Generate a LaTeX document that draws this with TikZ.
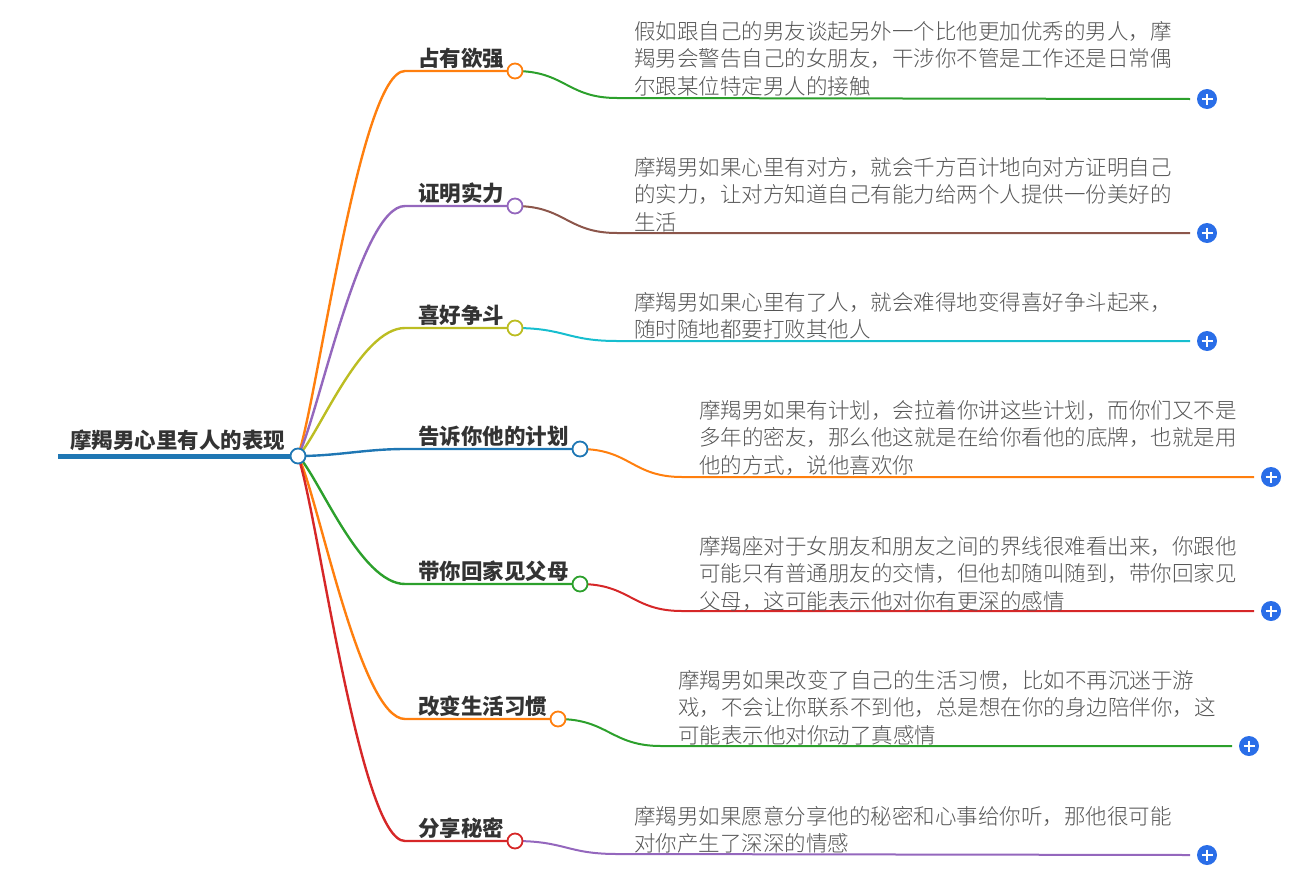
\documentclass[tikz,border=0pt]{standalone}
\usepackage{fontspec}
\setmainfont{Noto Sans CJK SC}
\IfFontExistsTF{Noto Sans CJK SC Light}
  {\newfontfamily\leaffont{Noto Sans CJK SC Light}}
  {\newfontfamily\leaffont{Noto Sans CJK SC}}
\usepackage{xcolor}
\usepackage{tikz}
\usetikzlibrary{positioning, calc, backgrounds}
\definecolor{mmBlue}{HTML}{1F77B4}
\definecolor{mmOrange}{HTML}{FF7F0E}
\definecolor{mmGreen}{HTML}{2CA02C}
\definecolor{mmRed}{HTML}{D62728}
\definecolor{mmPurple}{HTML}{9467BD}
\definecolor{mmBrown}{HTML}{8C564B}
\definecolor{mmOlive}{HTML}{BCBD22}
\definecolor{mmCyan}{HTML}{17BECF}
\definecolor{mmPlus}{HTML}{2A6EE8}
\definecolor{mmText}{HTML}{333333}
\definecolor{mmLeaf}{HTML}{555555}
\tikzset{
  topic/.style={
    anchor=base west, inner sep=0pt,
    font=\fontsize{21.5}{26}\selectfont\bfseries,
    text=mmText
  },
  leaftext/.style={
    anchor=north west, inner sep=0pt,
    align=left,
    font=\leaffont\fontsize{21.5}{27.5}\selectfont,
    text=mmLeaf
  },
  dot/.style={
    circle, draw=#1, line width=1.8pt,
    fill=white,
    minimum size=15pt, inner sep=0pt
  },
  plusdot/.style={
    circle, fill=mmPlus,
    minimum size=20pt, inner sep=0pt, outer sep=7pt,
    path picture={
      \draw[white, line width=1.8pt]
        ($(path picture bounding box.center)+(-5.5,0)$) -- ($(path picture bounding box.center)+(5.5,0)$)
        ($(path picture bounding box.center)+(0,-5.5)$) -- ($(path picture bounding box.center)+(0,5.5)$);
    }
  },
  trunk/.style={draw=mmBlue, line width=5pt},
  branch/.style={draw=#1, line width=2.4pt},
  twig/.style={draw=#1, line width=2pt}
}

\begin{document}
\begin{tikzpicture}[x=1pt, y=-1pt]
  \useasboundingbox (0,0) rectangle (1297,878);
  \node[topic] (root) at (70,448) {摩羯男心里有人的表现};
  \node[dot=mmBlue] (rootdot) at (298,456) {};
  \coordinate (rootstart) at (58,456);

  \node[topic] (own) at (418,66) {占有欲强};
  \node[topic] (prove) at (418,201) {证明实力};
  \node[topic] (fight) at (418,323) {喜好争斗};
  \node[topic] (plan) at (418,444) {告诉你他的计划};
  \node[topic] (family) at (418,579) {带你回家见父母};
  \node[topic] (habit) at (418,714) {改变生活习惯};
  \node[topic] (secret) at (418,836) {分享秘密};

  \node[dot=mmOrange] (owndot) at (515,71) {};
  \node[dot=mmPurple] (provedot) at (515,206) {};
  \node[dot=mmOlive] (fightdot) at (515,328) {};
  \node[dot=mmBlue] (plandot) at (580,449) {};
  \node[dot=mmGreen] (familydot) at (580,584) {};
  \node[dot=mmOrange] (habitdot) at (558,719) {};
  \node[dot=mmRed] (secretdot) at (515,841) {};

  \node[leaftext] (ownleaf) at (634,21) {假如跟自己的男友谈起另外一个比他更加优秀的男人，摩\\羯男会警告自己的女朋友，干涉你不管是工作还是日常偶\\尔跟某位特定男人的接触};
  \node[leaftext] (proveleaf) at (634,157) {摩羯男如果心里有对方，就会千方百计地向对方证明自己\\的实力，让对方知道自己有能力给两个人提供一份美好的\\生活};
  \node[leaftext] (fightleaf) at (634,292) {摩羯男如果心里有了人，就会难得地变得喜好争斗起来，\\随时随地都要打败其他人};
  \node[leaftext] (planleaf) at (699,400) {摩羯男如果有计划，会拉着你讲这些计划，而你们又不是\\多年的密友，那么他这就是在给你看他的底牌，也就是用\\他的方式，说他喜欢你};
  \node[leaftext] (familyleaf) at (699,536) {摩羯座对于女朋友和朋友之间的界线很难看出来，你跟他\\可能只有普通朋友的交情，但他却随叫随到，带你回家见\\父母，这可能表示他对你有更深的感情};
  \node[leaftext] (habitleaf) at (678,670) {摩羯男如果改变了自己的生活习惯，比如不再沉迷于游\\戏，不会让你联系不到他，总是想在你的身边陪伴你，这\\可能表示他对你动了真感情};
  \node[leaftext] (secretleaf) at (634,806) {摩羯男如果愿意分享他的秘密和心事给你听，那他很可能\\对你产生了深深的情感};

  \node[plusdot] (ownplus) at (1207,99) {};
  \node[plusdot] (proveplus) at (1207,233) {};
  \node[plusdot] (fightplus) at (1207,341) {};
  \node[plusdot] (planplus) at (1271,477) {};
  \node[plusdot] (familyplus) at (1271,611) {};
  \node[plusdot] (habitplus) at (1249,746) {};
  \node[plusdot] (secretplus) at (1207,855) {};

  \coordinate (ownbend) at (405,71);
  \coordinate (provebend) at (405,206);
  \coordinate (fightbend) at (405,328);
  \coordinate (planbend) at (405,449);
  \coordinate (familybend) at (405,584);
  \coordinate (habitbend) at (405,719);
  \coordinate (secretbend) at (405,841);

  \coordinate (owntip) at (617,98);
  \coordinate (provetip) at (617,233);
  \coordinate (fighttip) at (617,341);
  \coordinate (plantip) at (682,477);
  \coordinate (familytip) at (682,611);
  \coordinate (habittip) at (661,746);
  \coordinate (secrettip) at (617,854);

  \begin{scope}[on background layer]
    \draw[trunk] (rootstart) -- (rootdot.center);
    \draw[branch=mmOrange] (rootdot.center) .. controls +(20,-58) and +(-45,0) .. (ownbend) -- (owndot.center);
    \draw[branch=mmPurple] (rootdot.center) .. controls +(20,-38) and +(-45,0) .. (provebend) -- (provedot.center);
    \draw[branch=mmOlive] (rootdot.center) .. controls +(20,-19) and +(-45,0) .. (fightbend) -- (fightdot.center);
    \draw[branch=mmBlue] (rootdot.center) .. controls +(40,0) and +(-40,0) .. (planbend) -- (plandot.center);
    \draw[branch=mmGreen] (rootdot.center) .. controls +(20,19) and +(-45,0) .. (familybend) -- (familydot.center);
    \draw[branch=mmOrange] (rootdot.center) .. controls +(20,39) and +(-45,0) .. (habitbend) -- (habitdot.center);
    \draw[branch=mmRed] (rootdot.center) .. controls +(20,58) and +(-45,0) .. (secretbend) -- (secretdot.center);

    \draw[twig=mmGreen] (owndot.center) .. controls +(50,0) and +(-50,0) .. (owntip) -- (ownplus.west);
    \draw[twig=mmBrown] (provedot.center) .. controls +(50,0) and +(-50,0) .. (provetip) -- (proveplus.west);
    \draw[twig=mmCyan] (fightdot.center) .. controls +(50,0) and +(-50,0) .. (fighttip) -- (fightplus.west);
    \draw[twig=mmOrange] (plandot.center) .. controls +(50,0) and +(-50,0) .. (plantip) -- (planplus.west);
    \draw[twig=mmRed] (familydot.center) .. controls +(50,0) and +(-50,0) .. (familytip) -- (familyplus.west);
    \draw[twig=mmGreen] (habitdot.center) .. controls +(50,0) and +(-50,0) .. (habittip) -- (habitplus.west);
    \draw[twig=mmPurple] (secretdot.center) .. controls +(50,0) and +(-50,0) .. (secrettip) -- (secretplus.west);
  \end{scope}
\end{tikzpicture}
\end{document}
